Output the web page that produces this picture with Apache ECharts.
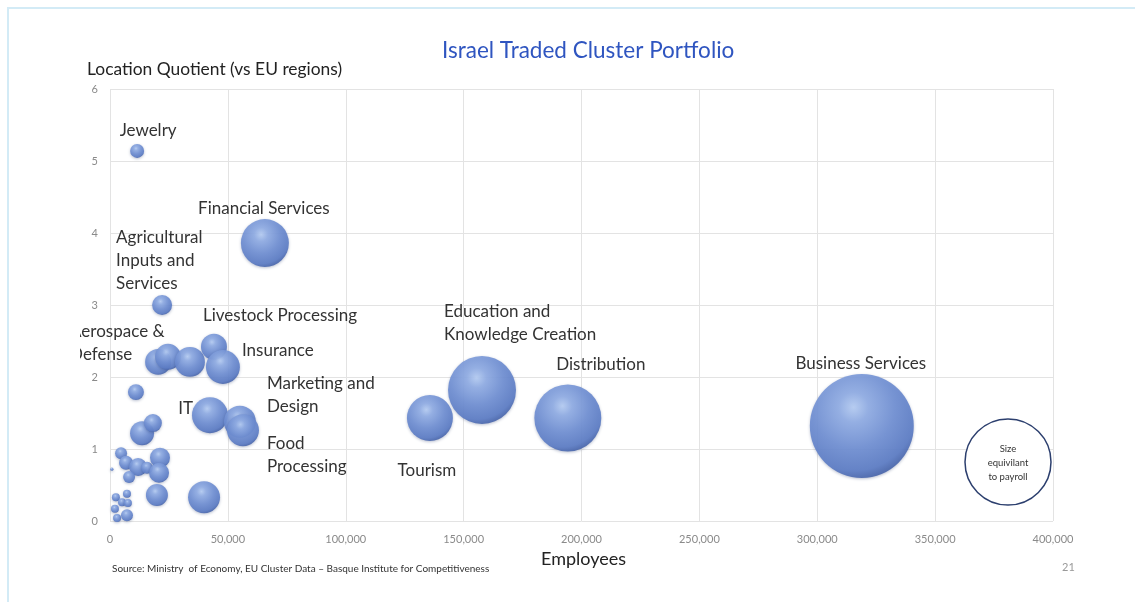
<!DOCTYPE html>
<html>
<head>
<meta charset="utf-8">
<script src="https://cdn.jsdelivr.net/npm/echarts@6/dist/echarts.min.js"></script>
<style>
html,body{margin:0;padding:0;background:#fff;}
#chart{width:1135px;height:602px;}
</style>
</head>
<body>
<div id="chart"></div>
<script>
// ---- data ----
const clusterNames = [
  'Jewelry','Financial Services','Agricultural Inputs and Services','Aerospace & Defense','c5','c6',
  'Livestock Processing','Insurance','c9','IT','Marketing and Design','Food Processing','c13','c14',
  'c15','c16','c17','c18','c19','c20','c21','c22','c23','c24','c25','c26','c27','c28','c29','c30','c31',
  'Tourism','Education and Knowledge Creation','Distribution','Business Services'
];
const employees = [
  11500, 65700, 22100, 20400, 24600, 33900,
  44100, 47900, 11000, 42400, 55100, 56400, 13600, 18200,
  4700, 6800, 800, 11900, 15700, 21200, 20800, 8100, 19900, 39900, 2500, 7200, 5100, 7600, 2100, 3000, 7200,
  135700, 157800, 194200, 318900
];
const locationQuotient = [
  5.14, 3.86, 3.00, 2.21, 2.28, 2.21,
  2.42, 2.14, 1.79, 1.47, 1.38, 1.26, 1.22, 1.36,
  0.94, 0.81, 0.72, 0.75, 0.74, 0.88, 0.67, 0.61, 0.36, 0.33, 0.33, 0.38, 0.26, 0.25, 0.17, 0.04, 0.08,
  1.43, 1.82, 1.43, 1.32
];
const payroll = [
  490, 5760, 1000, 1690, 1690, 2250,
  1690, 2890, 640, 3240, 2560, 2560, 1440, 810,
  360, 490, 25, 810, 360, 1000, 1000, 360, 1210, 2560, 160, 160, 160, 160, 160, 160, 360,
  5290, 11560, 11220, 27040
];
const xTicks = [0, 50000, 100000, 150000, 200000, 250000, 300000, 350000, 400000];
const yTicks = [0, 1, 2, 3, 4, 5, 6];

// ---- label styling (positions relative to each bubble centre) ----
const labelStyle = {
  'Jewelry': {offset:[11,-20], align:'center', text:'Jewelry'},
  'Financial Services': {offset:[-1,-35], align:'center', text:'Financial Services'},
  'Agricultural Inputs and Services': {offset:[-46,-44], align:'left', text:'Agricultural\nInputs and\nServices'},
  'Livestock Processing': {offset:[-11,-31], align:'left', text:'Livestock Processing'},
  'Insurance': {offset:[19,-16], align:'left', text:'Insurance'},
  'Aerospace & Defense': {offset:[-88,-19], align:'left', text:'Aerospace &\nDefense'},
  'IT': {offset:[-17,-7], align:'right', text:'IT'},
  'Marketing and Design': {offset:[27,-27], align:'left', text:'Marketing and\nDesign'},
  'Food Processing': {offset:[24,25], align:'left', text:'Food\nProcessing'},
  'Education and Knowledge Creation': {offset:[-38,-67], align:'left', text:'Education and\nKnowledge Creation'},
  'Distribution': {offset:[33,-54], align:'center', text:'Distribution'},
  'Tourism': {offset:[-3,52], align:'center', text:'Tourism'},
  'Business Services': {offset:[-1,-62], align:'center', text:'Business Services'}
};

const bubbleFill = {
  type:'radial', x:0.42, y:0.32, r:0.72,
  colorStops:[
    {offset:0, color:'#b6cdf3'},
    {offset:0.2, color:'#91ade4'},
    {offset:0.55, color:'#7190d3'},
    {offset:0.85, color:'#5d7dc5'},
    {offset:1, color:'#435fa3'}
  ]
};

const seriesData = clusterNames.map((n,i)=>{
  const item = {name:n, value:[employees[i], locationQuotient[i], payroll[i]]};
  const ls = labelStyle[n];
  if (ls) {
    item.label = {
      show:true, position:'inside', formatter:ls.text,
      align:ls.align, verticalAlign:'middle',
      color:'#222', fontFamily:'Lato', fontSize:17, lineHeight:23
    };
  }
  return item;
});

const chart = echarts.init(document.getElementById('chart'), null, {renderer:'canvas'});
chart.setOption({
  animation:false,
  backgroundColor:'#fff',
  title:{
    text:'Israel Traded Cluster Portfolio', left:437, top:34,
    textStyle:{color:'#2f55c0', fontFamily:'Lato', fontSize:22.5, fontWeight:'normal'}
  },
  grid:{left:110, top:89, right:82, bottom:81, containLabel:false, outerBoundsMode:'none'},
  xAxis:{
    type:'value', min:xTicks[0], max:xTicks[xTicks.length-1], interval:50000,
    name:'Employees', nameLocation:'middle', nameGap:27,
    nameTextStyle:{color:'#222', fontFamily:'Lato', fontSize:18, padding:[0,0,0,4]},
    axisLine:{show:false}, axisTick:{show:false},
    axisLabel:{color:'#8a8a8a', fontFamily:'Lato', fontSize:11, margin:13,
      formatter:v=>v.toLocaleString('en-US')},
    splitLine:{show:true, lineStyle:{color:'#e3e3e3', width:1}}
  },
  yAxis:{
    type:'value', min:yTicks[0], max:yTicks[yTicks.length-1], interval:1,
    axisLine:{show:false}, axisTick:{show:false},
    axisLabel:{color:'#8a8a8a', fontFamily:'Lato', fontSize:11, margin:12},
    splitLine:{show:true, lineStyle:{color:'#e3e3e3', width:1}}
  },
  series:[{
    type:'scatter',
    data:seriesData,
    symbolSize:d=>Math.sqrt(d[2])*0.632,
    itemStyle:{color:bubbleFill, opacity:0.92, shadowColor:'rgba(40,60,110,0.35)', shadowBlur:3, shadowOffsetY:1},
    label:{show:false},
    labelLayout:function(p){
      const ls = labelStyle[clusterNames[p.dataIndex]];
      if (!ls) return {};
      const cx = p.rect.x + p.rect.width/2, cy = p.rect.y + p.rect.height/2;
      return {x: cx + ls.offset[0], y: cy + ls.offset[1], align: ls.align, verticalAlign:'middle', hideOverlap:false};
    },
    z:3
  }],
  graphic:[
    // white mask that clips the left of the Aerospace label, like the slide
    {type:'rect', z:100, shape:{x:9, y:318, width:71, height:48}, style:{fill:'#fff'}},
    // slide frame lines
    {type:'rect', z:101, shape:{x:7, y:7, width:1128, height:2}, style:{fill:'#d3ebf6'}},
    {type:'rect', z:101, shape:{x:7, y:7, width:2, height:595}, style:{fill:'#d3ebf6'}},
    // y axis title
    {type:'text', z:102, left:87, top:61, style:{text:'Location Quotient (vs EU regions)', fill:'#222', font:'17.4px Lato'}},
    // size legend
    {type:'circle', z:101, shape:{cx:1008, cy:462, r:43}, style:{fill:'#fff', stroke:'#2c3f6e', lineWidth:1.5}},
    {type:'text', z:102, x:1008, y:463, style:{text:'Size\nequivilant\nto payroll', fill:'#333', font:'9.5px Lato', align:'center', verticalAlign:'middle', lineHeight:14}},
    // source + page number
    {type:'text', z:102, left:112, top:564, style:{text:'Source: Ministry  of Economy, EU Cluster Data – Basque Institute for Competitiveness', fill:'#333', font:'10px Lato'}},
    {type:'text', z:102, left:1062, top:562, style:{text:'21', fill:'#999', font:'11px Lato'}}
  ]
});
</script>
</body>
</html>
